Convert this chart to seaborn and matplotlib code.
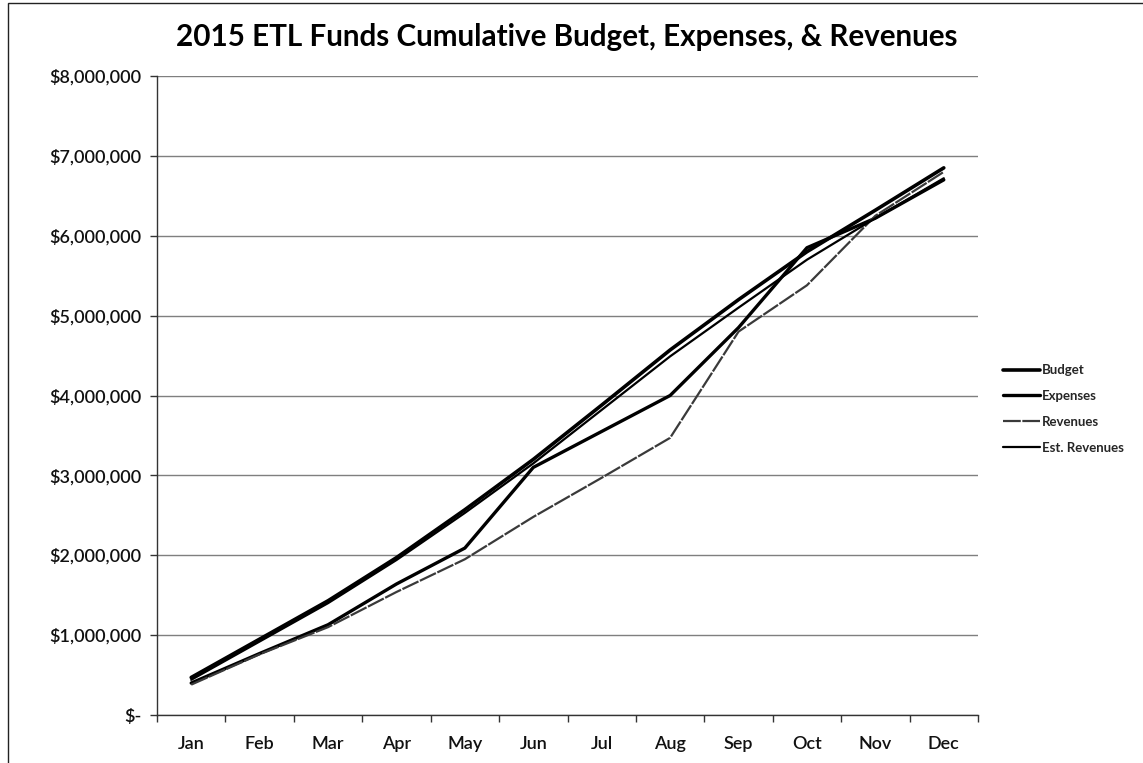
import matplotlib
matplotlib.use("Agg")
import matplotlib.pyplot as plt
import matplotlib.ticker as mticker
from matplotlib.patches import Rectangle
import numpy as np
import pandas as pd
import seaborn as sns

# Cumulative 2015 ETL fund totals, in millions of dollars
months = ["Jan", "Feb", "Mar", "Apr", "May", "Jun",
          "Jul", "Aug", "Sep", "Oct", "Nov", "Dec"]
budget = [0.47, 0.95, 1.43, 1.97, 2.57, 3.20, 3.88, 4.57, 5.20, 5.80, 6.32, 6.85]
expenses = [0.40, 0.77, 1.13, 1.64, 2.09, 3.10, 3.55, 4.00, 4.85, 5.85, 6.22, 6.70]
revenues = [0.38, 0.76, 1.10, 1.54, 1.95, 2.48, 2.97, 3.47, 4.80, 5.38, 6.25, 6.80]
est_revenues = [0.44, 0.92, 1.40, 1.94, 2.53, 3.15, 3.82, 4.49, 5.10, 5.70, 6.22, 6.72]

series_names = ["Budget", "Expenses", "Revenues", "Est. Revenues"]
series_values = [budget, expenses, revenues, est_revenues]
y_ticks = [0, 1, 2, 3, 4, 5, 6, 7, 8]  # millions

df = pd.DataFrame({
    "Month": months * len(series_names),
    "Series": np.repeat(series_names, len(months)),
    "Amount": np.concatenate(series_values) * 1e6,
})

line_styles = {
    "Budget": dict(color="#000000", linewidth=2.6, linestyle="-"),
    "Expenses": dict(color="#000000", linewidth=2.4, linestyle="-"),
    "Revenues": dict(color="#3a3a3a", linewidth=1.6, linestyle=(0, (8, 0.7))),
    "Est. Revenues": dict(color="#000000", linewidth=1.6, linestyle="-"),
}

sns.set_theme(style="white")
plt.rcParams["font.family"] = ["Lato", "DejaVu Sans"]

W, H = 1143, 763
fig = plt.figure(figsize=(W / 100, H / 100), dpi=100)
ax = fig.add_axes([157 / W, 48 / H, (978 - 157) / W, (715 - 76) / H])

for name in series_names:
    sns.lineplot(data=df[df["Series"] == name], x="Month", y="Amount",
                 ax=ax, sort=False, label=name, **line_styles[name])

# Axes limits, grid and ticks
ax.set_xlim(-0.5, len(months) - 0.5)
ax.set_ylim(0, 8e6)
ax.set_yticks([v * 1e6 for v in y_ticks])
ax.yaxis.set_major_formatter(mticker.FuncFormatter(
    lambda v, _: "$-" if v == 0 else f"${v:,.0f}"))
ax.grid(axis="y", color="#7f7f7f", linewidth=1.0)
ax.grid(axis="x", visible=False)
ax.set_axisbelow(True)

ax.set_xticks(range(len(months)))
ax.set_xticklabels(months, fontweight="semibold")
ax.set_xticks(np.arange(-0.5, len(months), 1.0), minor=True)
ax.tick_params(axis="x", which="major", length=0, pad=15,
               labelsize=13, labelcolor="#111111")
ax.tick_params(axis="x", which="minor", length=5, width=1.0,
               color="#333333", direction="out", bottom=True)
ax.tick_params(axis="y", which="major", length=5, width=1.0,
               color="#333333", direction="out", left=True, pad=6,
               labelsize=13, labelcolor="#111111")
for lbl in ax.get_yticklabels():
    lbl.set_fontweight("semibold")

ax.set_xlabel("")
ax.set_ylabel("")
for side in ["top", "right"]:
    ax.spines[side].set_visible(False)
for side in ["left", "bottom"]:
    ax.spines[side].set_color("#333333")
    ax.spines[side].set_linewidth(1.0)

fig.text(567 / W, 1 - 37 / H,
         "2015 ETL Funds Cumulative Budget, Expenses, & Revenues",
         ha="center", va="center", fontsize=21.3, fontweight="bold",
         color="#000000")

leg = ax.legend(loc="center left", bbox_to_anchor=(1003 / W, 1 - 409 / H),
                bbox_transform=fig.transFigure, frameon=False,
                fontsize=9.5, handlelength=2.8, handletextpad=0.15,
                labelspacing=1.05, borderpad=0, borderaxespad=0)
for txt in leg.get_texts():
    txt.set_fontweight("bold")

# Chart-area border (left and top edges)
fig.add_artist(Rectangle((8 / W, -0.05), 1.2, 1.05 - 3 / H,
                         transform=fig.transFigure, fill=False,
                         edgecolor="#222222", linewidth=1.0))

fig.savefig("out.png", dpi=100)
